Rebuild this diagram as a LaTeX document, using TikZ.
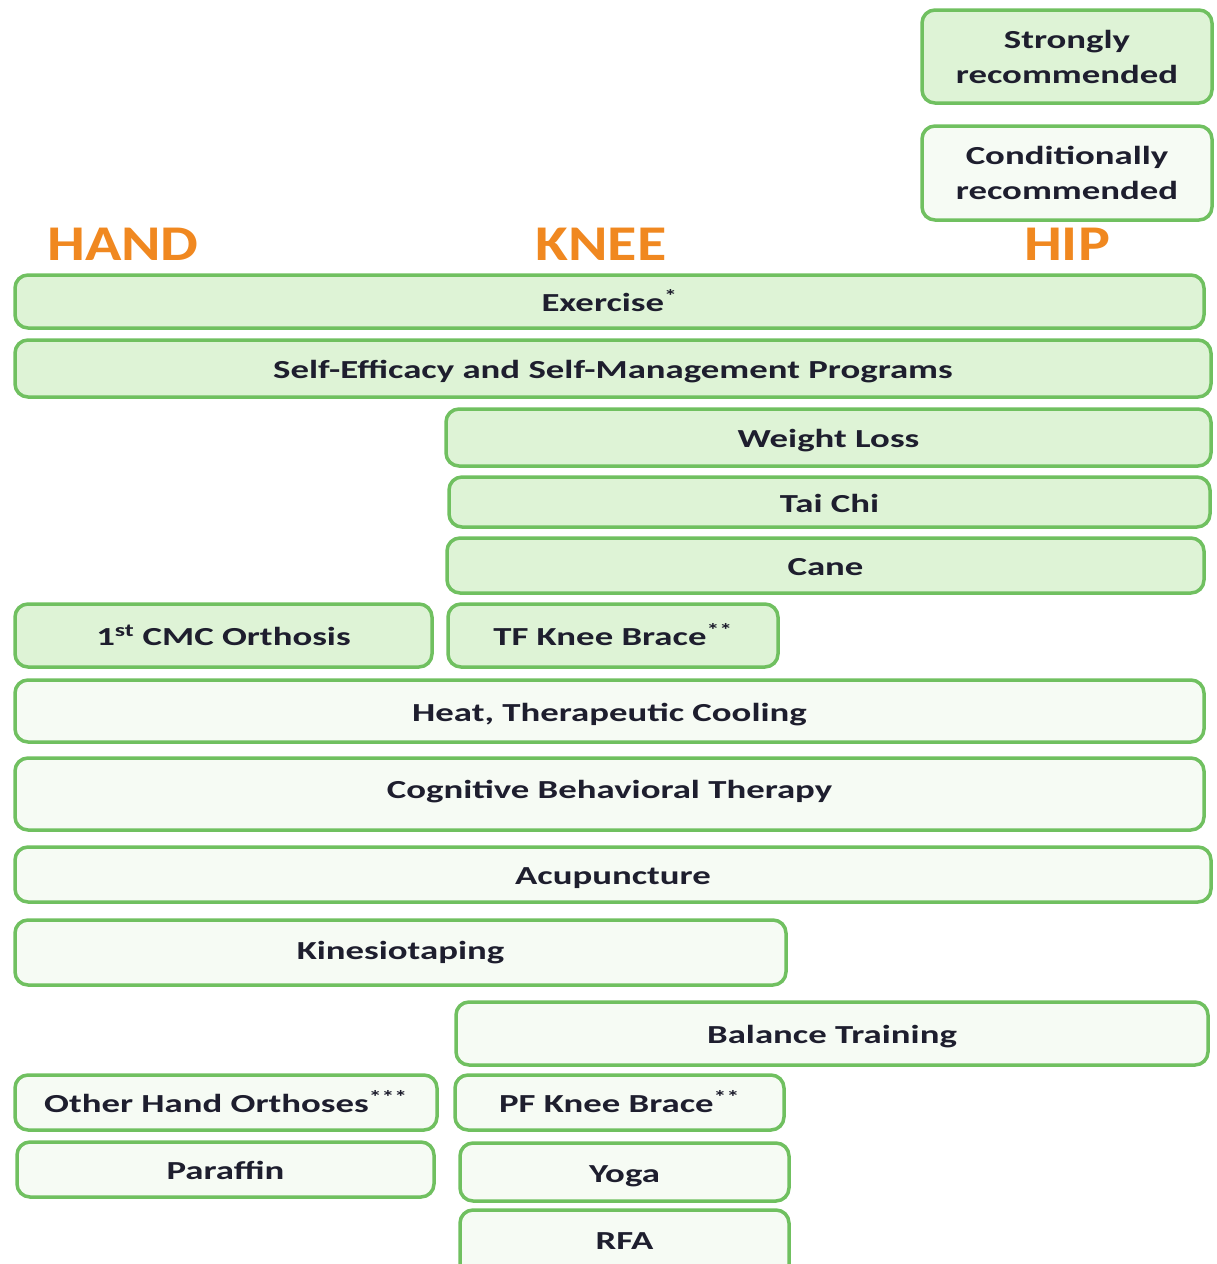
\documentclass[tikz,border=0pt]{standalone}
\usepackage{fontspec}
\newfontfamily\labfont{Carlito}[FakeStretch=1.415]
\newfontfamily\hdrfont{Carlito}[FakeStretch=1.2]
\definecolor{boxline}{RGB}{112,192,96}
\definecolor{strongfill}{RGB}{222,243,214}
\definecolor{condfill}{RGB}{246,251,244}
\definecolor{txt}{RGB}{30,30,46}
\definecolor{hdr}{RGB}{240,136,32}
\tikzset{
  basebox/.style={draw=boxline, line width=3.5pt, rounded corners=13pt, inner sep=0pt,
    text=txt, font=\labfont\bfseries\fontsize{26}{35}\selectfont, align=center},
  sbox/.style={basebox, fill=strongfill, text height=21pt, text depth=0.5pt},
  cbox/.style={basebox, fill=condfill, text height=21pt, text depth=0.5pt},
  legs/.style={basebox, fill=strongfill},
  legc/.style={basebox, fill=condfill},
  lbl/.style={text=txt, font=\labfont\bfseries\fontsize{26}{35}\selectfont, inner sep=0pt},
  head/.style={text=hdr, font=\hdrfont\bfseries\fontsize{50}{50}\selectfont, inner sep=0pt},
}
\newcommand{\bx}[6]{\node[#1, minimum width=#4pt, minimum height=#5pt] (#6) at (#2,#3)}
\begin{document}
\begin{tikzpicture}[x=1pt,y=-1pt]
\useasboundingbox (0,0) rectangle (1216,1264);
% legend
\bx{legs}{1067}{56.5}{290}{93}{leg1} {Strongly\\recommended};
\bx{legc}{1067}{173}{290}{94}{leg2} {Conditionally\\recommended};
% headers
\node[head] (hand) at (123,244) {HAND};
\node[head] (knee) at (601,244) {KNEE};
\node[head] (hip) at (1067,244) {HIP};
% strongly recommended
\bx{sbox}{609.5}{301.5}{1189}{53}{ex} {Exercise\textsuperscript{*}};
\bx{sbox}{613}{368.5}{1196}{57}{self} {Self-Efficacy and Self-Management Programs};
\bx{sbox}{828.5}{437.5}{765}{57}{wl} {Weight Loss};
\bx{sbox}{829.5}{502}{761}{50}{tai} {Tai Chi};
\bx{sbox}{825.5}{565.5}{757}{55}{cane} {Cane};
\bx{sbox}{223.5}{635.5}{417}{63}{cmc} {1\textsuperscript{st} CMC Orthosis};
\bx{sbox}{613}{635.5}{330}{63}{tf} {TF Knee Brace\textsuperscript{**}};
% conditionally recommended
\bx{cbox}{609.5}{711}{1189}{62}{heat} {Heat, Therapeutic Cooling};
\bx{cbox, text height=14pt, text depth=6pt}{609.5}{794}{1189}{72}{cbt} {Cognitive Behavioral Therapy};
\bx{cbox}{613}{874.5}{1196}{55}{acu} {Acupuncture};
\bx{cbox, text height=18pt, text depth=4pt}{400.5}{952.5}{771}{65}{kin} {Kinesiotaping};
\bx{cbox}{832}{1033.5}{752}{63}{bal} {Balance Training};
\bx{cbox}{226}{1102.5}{422}{55}{oho} {Other Hand Orthoses\textsuperscript{***}};
\bx{cbox}{619.5}{1102.5}{329}{55}{pf} {PF Knee Brace\textsuperscript{**}};
\bx{cbox}{225.5}{1169.5}{417}{55}{par} {Paraffin};
\bx{cbox}{624.5}{1172}{329}{58}{yoga} {Yoga};
\bx{cbox}{624.5}{1245}{329}{70}{rfa} {};
\node[lbl] (rfat) at (624.5,1241) {RFA};
\end{tikzpicture}
\end{document}
